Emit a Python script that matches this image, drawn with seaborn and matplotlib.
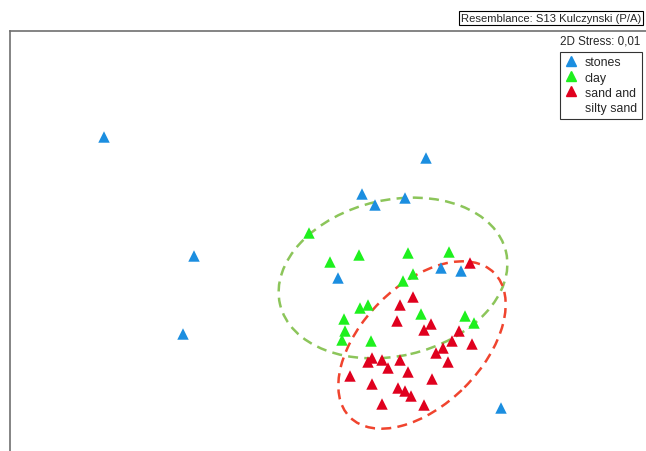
import pandas as pd
import seaborn as sns
import matplotlib.pyplot as plt
from matplotlib.patches import Ellipse
from matplotlib.lines import Line2D

# nMDS coordinates
stones_x = [104, 194, 183, 426, 362, 375, 405, 338, 441, 461, 501]
stones_y = [314, 195, 117, 293, 257, 246, 253, 173, 183, 180, 43]

clay_x = [309, 330, 359, 408, 449, 413, 403, 360, 368, 344, 345, 342, 371, 421, 465, 474]
clay_y = [218, 189, 196, 198, 199, 177, 170, 143, 146, 132, 120, 111, 110, 137, 135, 128]

sand_x = [470, 413, 400, 397, 431, 424, 459, 452, 472, 443, 436, 448, 372,
          368, 382, 400, 388, 350, 408, 432, 372, 398, 405, 411, 382, 424]
sand_y = [188, 154, 146, 130, 127, 121, 120, 110, 107, 103, 98, 89, 93,
          89, 91, 91, 83, 75, 79, 72, 67, 63, 60, 55, 47, 46]

groups = ['stones', 'clay', 'sand and silty sand']
colors = ['#1b8ee0', '#1ef01e', '#e0001e']

# overlay ellipses: centre, width, height, angle
clay_ell = [(393, 173), 232, 156, 13]
sand_ell = [(422, 106), 204, 120, 45]

df = pd.concat([
    pd.DataFrame({'x': stones_x, 'y': stones_y, 'group': groups[0]}),
    pd.DataFrame({'x': clay_x, 'y': clay_y, 'group': groups[1]}),
    pd.DataFrame({'x': sand_x, 'y': sand_y, 'group': groups[2]}),
])

sns.set_style('white')
plt.rcParams['font.family'] = ['Liberation Sans', 'DejaVu Sans']

fig = plt.figure(figsize=(6.46, 4.52), dpi=100)
ax = fig.add_axes([10 / 646, 0, 636 / 646, 420 / 452])

sns.scatterplot(data=df, x='x', y='y', hue='group', hue_order=groups,
                palette=colors, marker='^', s=68, linewidth=0, ax=ax, zorder=3,
                legend=False)

for (c, w, h, a), col in [(clay_ell, '#8cc55a'), (sand_ell, '#f0442e')]:
    ax.add_patch(Ellipse(c, w, h, angle=a, fill=False, edgecolor=col,
                         linewidth=1.8, linestyle=(0, (4, 2.5)), zorder=2))

ax.set_xlim(10, 646)
ax.set_ylim(0, 420)
ax.set_xticks([])
ax.set_yticks([])
ax.set_xlabel('')
ax.set_ylabel('')
for s in ['right', 'bottom']:
    ax.spines[s].set_visible(False)
for s in ['left', 'top']:
    ax.spines[s].set_color('#707070')
    ax.spines[s].set_linewidth(1.2)

# legend: the long label wraps under its marker
handles = [Line2D([], [], marker='^', color=c, linestyle='none', markersize=7.5)
           for c in colors]
handles.append(Line2D([], [], linestyle='none'))
labels = ['stones', 'clay', 'sand and', 'silty sand']
leg = ax.legend(handles, labels, loc='upper right',
                bbox_to_anchor=(642 / 646, 1 - 52.5 / 452),
                bbox_transform=fig.transFigure, borderaxespad=0, fontsize=8.9,
                frameon=True, fancybox=False, edgecolor='black',
                handlelength=1.0, handletextpad=0.6, borderpad=0.4,
                labelspacing=0.25)
leg.get_frame().set_linewidth(0.8)

fig.text(640 / 646, 1 - 42 / 452, '2D Stress: 0,01', ha='right', va='center', fontsize=8.4)
fig.text(641 / 646, 1 - 19 / 452, 'Resemblance: S13 Kulczynski (P/A)', ha='right',
         va='center', fontsize=8.1,
         bbox=dict(boxstyle='square,pad=0.15', fc='white', ec='black', lw=0.8))

fig.savefig('out.png', dpi=100)
